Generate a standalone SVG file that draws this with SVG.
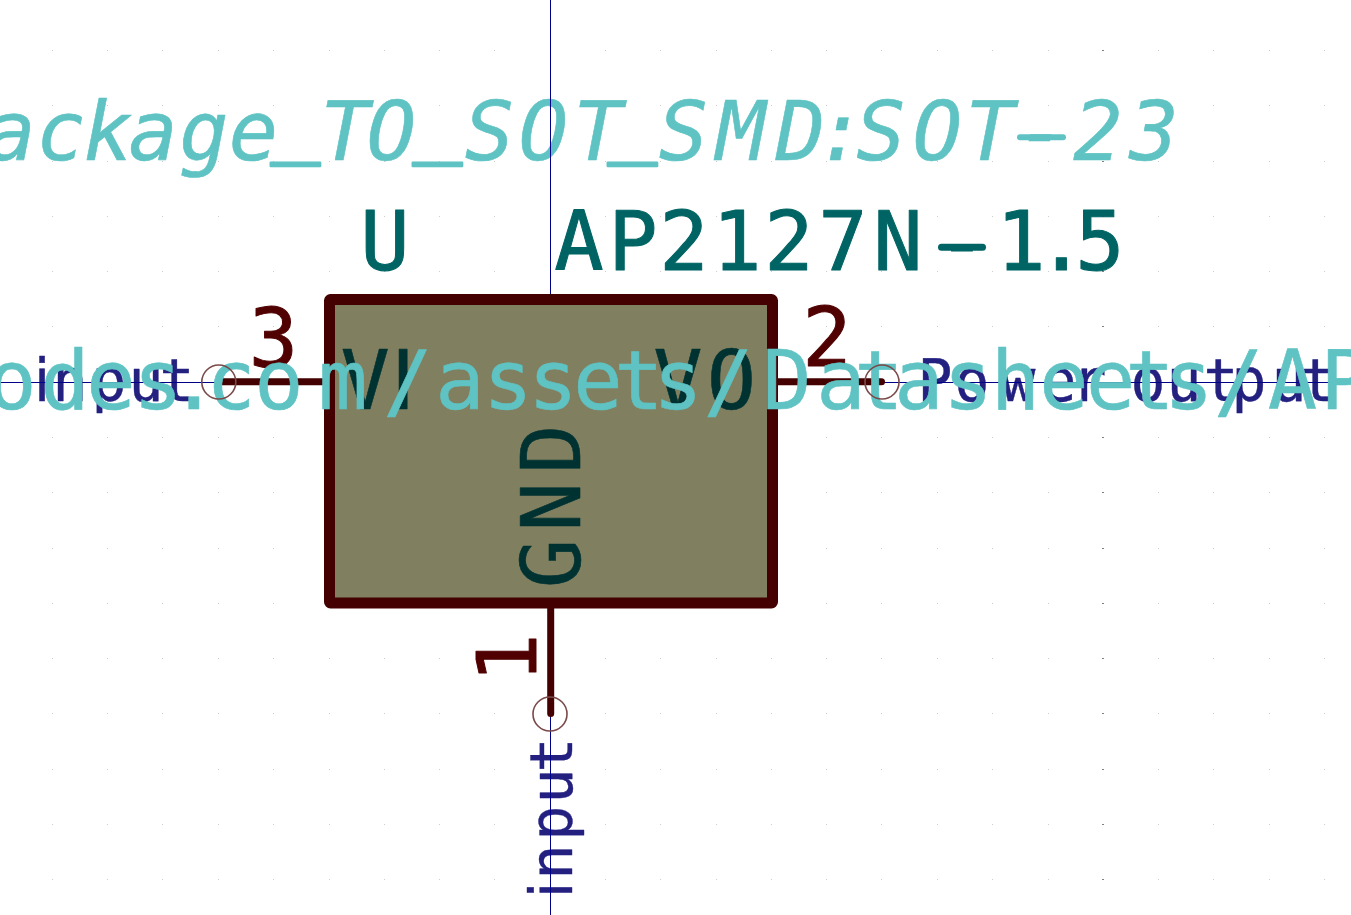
<svg xmlns="http://www.w3.org/2000/svg" width="1351" height="915" viewBox="0 0 1351 915">
<style>
text{font-family:"DejaVu Sans Mono","Liberation Mono",monospace;text-anchor:middle;stroke-linejoin:round;stroke-linecap:round}
.sans{font-family:"DejaVu Sans","Liberation Sans",sans-serif}
.fp{font-size:82px;font-style:italic;fill:#5fc3c3;stroke:#5fc3c3;stroke-width:.6}
.us{stroke-width:2.4}
.ds{font-size:82px;fill:#5fc3c3;stroke:#5fc3c3;stroke-width:.6}
.val{font-size:82px;fill:#006464;stroke:#006464;stroke-width:1}
.ref{font-size:82px;fill:#006464;stroke:#006464;stroke-width:1}
.num{font-size:82px;fill:#500000;stroke:#500000;stroke-width:1}
.name{font-size:82px;fill:#003232;stroke:#003232;stroke-width:.6}
.net{font-size:58px;fill:#232080;stroke:#232080;stroke-width:.4}
.pin{stroke:#440000;stroke-width:7;stroke-linecap:round;fill:none}
.cross{stroke:#000088;stroke-width:1;fill:none}
.nc{fill:none;stroke:#7a4a4a;stroke-width:1.6}
</style>
<g id="grid" fill="none" shape-rendering="crispEdges">
<path stroke="#cccccc" stroke-width="1" stroke-dasharray="1 54.28" d="M52.5 50V915M107.5 50V915M162.5 50V915M218.5 50V915M273.5 50V915M329.5 50V915M384.5 50V915M439.5 50V915M494.5 50V915M605.5 50V915M660.5 50V915M716.5 50V915M771.5 50V915M826.5 50V915M881.5 50V915M937.5 50V915M992.5 50V915M1048.5 50V915M1158.5 50V915M1213.5 50V915M1269.5 50V915M1324.5 50V915"/>
<path stroke="#808080" stroke-width="2" stroke-dasharray="1 54.28" d="M1103 50V915"/>
</g>
<g id="footprint-field">
<text class="fp" y="160 160 160 160 160 160 147 160 160 147 160 160 160 147 160 160 160 160 160 160 160 160 160 160" x="11 61 108 153 204 253.5 295.5 345 391.5 437.5 489.5 543.5 598 632.5 683.5 741 800.5 841 881 937.5 990 1041.5 1098 1154">ackage<tspan class="us">_</tspan>TO<tspan class="us">_</tspan>SOT<tspan class="us">_</tspan>SMD:SOT-23</text>
<line x1="1020" y1="137.3" x2="1063" y2="137.3" stroke="#5fc3c3" stroke-width="6" stroke-linecap="round"/>
</g>
<g id="net-labels">
<text class="net" id="label-left" y="401" x="42 70 109 146 177"><tspan class="sans">i</tspan>nput</text>
<text class="net" id="label-right" y="401" x="935 972 1018 1059 1089 1118 1148 1184 1221 1249 1289 1318">Power output</text>
<text class="net" id="label-bottom" transform="translate(571.5 890) rotate(-90)" y="0" x="0 28 67 104 135"><tspan class="sans">i</tspan>nput</text>
</g>
<g id="crosshair">
<path class="cross" d="M550.5 0V915M0 382.5H1351"/>
</g>
<g id="U1-body">
<rect x="329.5" y="299.5" width="443" height="303.5" rx="1" fill="#808060" stroke="#440000" stroke-width="11" stroke-linejoin="round"/>
</g>
<g id="connectors">
<path class="pin" d="M221 381.7H324"/>
<path class="pin" d="M778 381.7H881.5"/>
<path class="pin" d="M550.7 608V713.5"/>
</g>
<g id="pin-numbers">
<text class="num" y="367" x="273.5">3</text>
<text class="num" y="366" x="827">2</text>
<text class="num" transform="translate(535.5 658) rotate(-90)" y="0" x="0">1</text>
</g>
<g id="pin-names">
<text class="name" y="409" x="365.3 403">V<tspan class="sans">I</tspan></text>
<text class="name" y="409" x="678 731.5">VO</text>
<text class="name" transform="translate(579.5 0) rotate(-90)" y="0" x="-563.5 -506.7 -449">GND</text>
</g>
<g id="reference-field">
<text class="ref" y="270" x="385">U</text>
</g>
<g id="value-field">
<text class="val" y="270" x="579 633 684 737 789 843 898 962 1021 1061.5 1100">AP2127N-1.5</text>
<line x1="941.5" y1="247.3" x2="982.5" y2="247.3" stroke="#006464" stroke-width="7" stroke-linecap="round"/>
</g>
<g id="datasheet-field">
<text class="ds" y="409" x="12 65 111 158 194 231 279 343 408 460 508 553 598 639 678 728.5 787 841 879 919 968 1015.5 1064 1110.6 1150 1188.6 1238.6 1292.5 1345">odes.com/assets/Datasheets/AP</text>
</g>
<g id="no-connect-markers">
<circle class="nc" cx="218.8" cy="382" r="17"/>
<circle class="nc" cx="882" cy="382" r="17"/>
<circle class="nc" cx="550" cy="714" r="17"/>
</g>
</svg>
